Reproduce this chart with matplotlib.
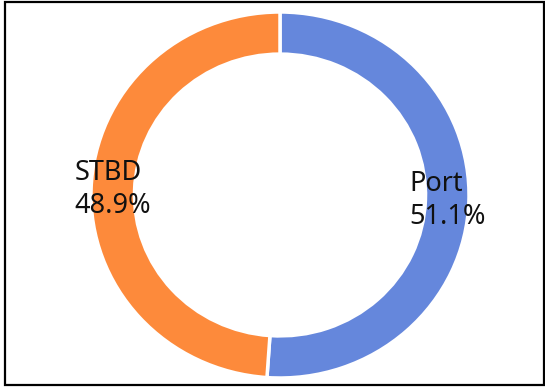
import numpy as np
import matplotlib.pyplot as plt
from matplotlib.patches import Rectangle

# side share of the hull data
labels = ["Port", "STBD"]
shares = [51.1, 48.9]
colors = ["#6587dc", "#fd8a3b"]

plt.rcParams["font.family"] = ["Noto Sans", "DejaVu Sans"]

fig = plt.figure(figsize=(5.45, 3.88), dpi=100)
fig.patch.set_facecolor("white")

# donut area in figure pixels: centre (280, 195), radii 189 x 183
cx, cy, rx, ry = 280, 195, 189, 183
ax = fig.add_axes([(cx - rx) / 545, (388 - cy - ry) / 388, 2 * rx / 545, 2 * ry / 388])

ring = 0.23
wedges, _ = ax.pie(
    shares,
    colors=colors,
    startangle=90,
    counterclock=False,
    radius=1.0,
    wedgeprops=dict(width=ring, edgecolor="white", linewidth=2.5),
)
ax.set_aspect("auto")
ax.set_xlim(-1, 1)
ax.set_ylim(-1, 1)
ax.axis("off")

# labels sit in the middle of the ring
r_lab = 1.0 - ring / 2
for w, lab, val in zip(wedges, labels, shares):
    ang = np.deg2rad((w.theta1 + w.theta2) / 2)
    ax.text(r_lab * np.cos(ang), r_lab * np.sin(ang), f"{lab}\n{val:.1f}%",
            ha="center", va="center", multialignment="left",
            fontsize=19.5, color="#111111", linespacing=1.2)

# frame around the figure
fig.patches.append(Rectangle((4.5 / 545, 3 / 388), 539 / 545, 383.5 / 388,
                             transform=fig.transFigure, fill=False,
                             edgecolor="black", linewidth=1.6))

fig.savefig("out.png", dpi=100)
